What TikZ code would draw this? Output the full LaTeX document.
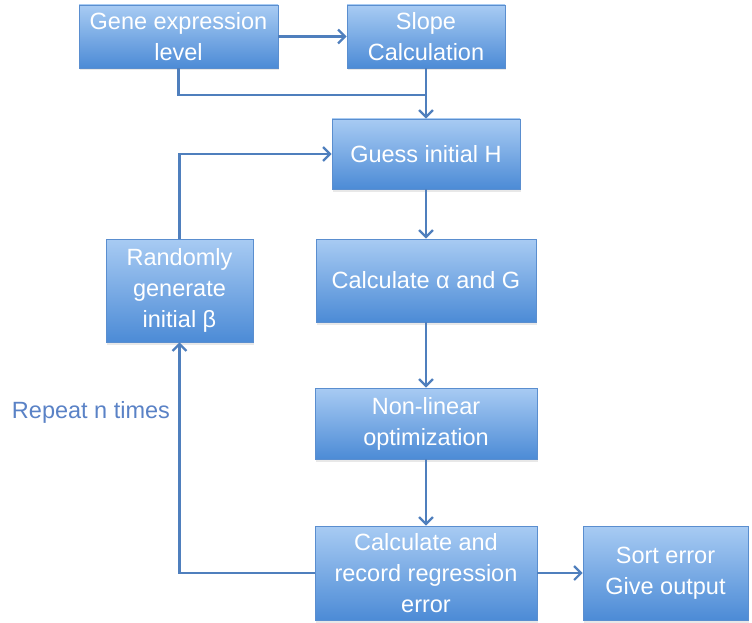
\documentclass[tikz,border=0pt]{standalone}
\usepackage{fontspec}
\setmainfont{Liberation Sans}
\usetikzlibrary{arrows.meta,shadows}
\definecolor{boxtop}{HTML}{A8CBF3}
\definecolor{boxbot}{HTML}{4C8BD6}
\definecolor{boxedge}{HTML}{5A8ECF}
\definecolor{linec}{HTML}{4F7FBD}
\definecolor{labelc}{HTML}{5A82C6}
\tikzset{
  flowbox/.style={rectangle, draw=boxedge, line width=0.8pt, top color=boxtop, bottom color=boxbot,
    text=white, font=\fontsize{23.5}{31}\selectfont, align=center, inner sep=0pt,
    drop shadow={opacity=0.18, shadow xshift=1pt, shadow yshift=-2.5pt}},
  conn/.style={draw=linec, line width=2.6pt},
  arr/.style={conn, -{Straight Barb[length=7pt, width=14pt, line width=2.2pt]}},
}
\begin{document}
\begin{tikzpicture}[x=1pt, y=-1pt]
\useasboundingbox (0,0) rectangle (752,623);
\node[flowbox, minimum width=199pt, minimum height=63pt] (gene) at (178.5,36.5) {Gene expression\\level};
\node[flowbox, minimum width=158pt, minimum height=63pt] (slope) at (426,36.5) {Slope\\Calculation};
\node[flowbox, minimum width=188pt, minimum height=70pt] (guess) at (426,154) {Guess initial H};
\node[flowbox, minimum width=220pt, minimum height=83pt] (calc) at (426,280.5) {Calculate α and G};
\node[flowbox, minimum width=147pt, minimum height=103pt] (rand) at (179.5,290.5) {Randomly\\generate\\initial β};
\node[flowbox, minimum width=222pt, minimum height=71pt] (nonlin) at (426,423.5) {Non-linear\\optimization};
\node[flowbox, minimum width=222pt, minimum height=94pt] (record) at (426,573) {Calculate and\\record regression\\error};
\node[flowbox, minimum width=165pt, minimum height=94pt] (sort) at (665.5,573) {Sort error\\Give output};
\node[text=labelc, font=\fontsize{23.5}{28}\selectfont, anchor=center] (rep) at (91,412) {Repeat n times};
\coordinate (join) at (426,95);
\draw[arr] (gene.east) -- (slope.west);
\draw[conn] (gene.south) |- (join);
\draw[arr] (slope.south) -- (guess.north);
\draw[arr] (guess.south) -- (calc.north);
\draw[arr] (calc.south) -- (nonlin.north);
\draw[arr] (nonlin.south) -- (record.north);
\draw[arr] (record.east) -- (sort.west);
\draw[arr] (record.west) -| (rand.south);
\draw[arr] (rand.north) |- (guess.west);
\end{tikzpicture}
\end{document}
